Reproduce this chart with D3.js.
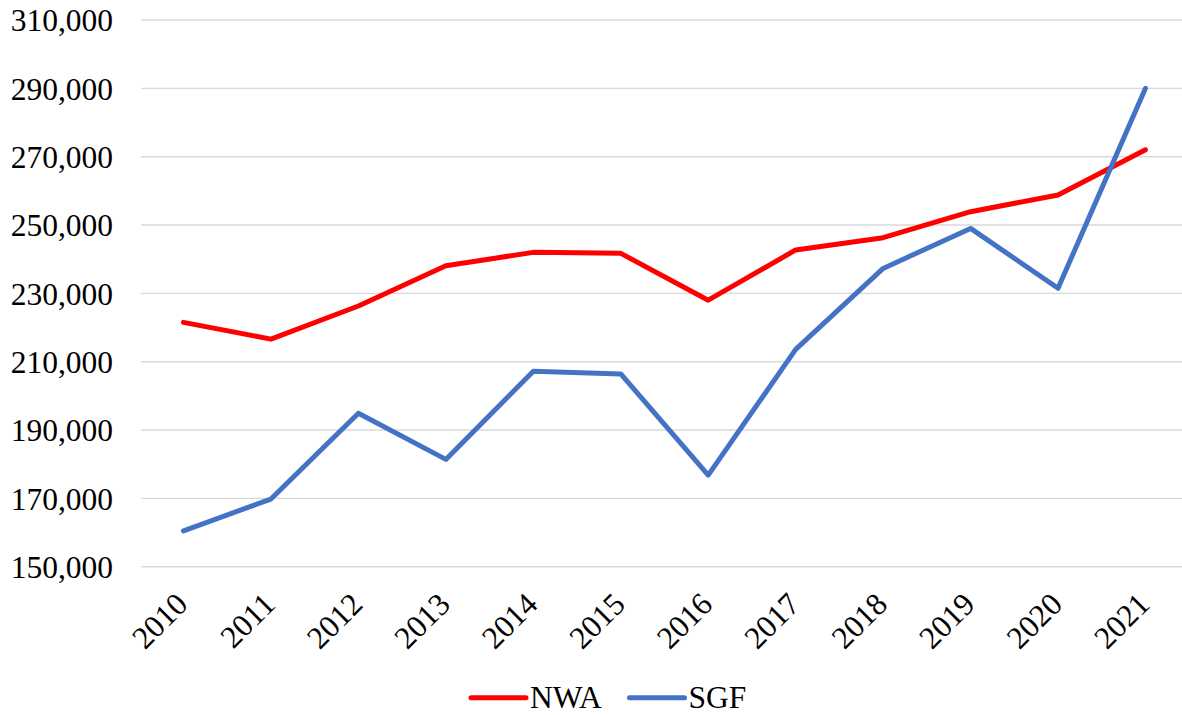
<!DOCTYPE html>
<html>
<head>
<meta charset="utf-8">
<script src="https://cdn.jsdelivr.net/npm/d3@7"></script>
<style>
  html, body { margin: 0; padding: 0; background: #ffffff; }
  svg { display: block; }
  text { font-family: "Liberation Serif", "Times New Roman", serif; fill: #000; }
</style>
</head>
<body>
<svg id="chart" width="1182" height="715"></svg>
<script>
const years = ["2010","2011","2012","2013","2014","2015","2016","2017","2018","2019","2020","2021"];
const nwaValues = [221500, 216600, 226300, 238100, 242000, 241700, 228000, 242700, 246300, 253900, 258800, 272000];
const sgfValues = [160500, 169800, 194900, 181400, 207200, 206400, 176800, 213600, 237300, 249000, 231500, 290000];
const yTicks = [150000, 170000, 190000, 210000, 230000, 250000, 270000, 290000, 310000];
const seriesNames = ["NWA", "SGF"];
const seriesColors = ["#FF0000", "#4472C4"];

const svg = d3.select("#chart");
const fontSize = 31.5;

const x = d3.scalePoint().domain(years).range([183.5, 1145.5]);
const y = d3.scaleLinear().domain([150000, 310000]).range([566.7, 20]);

// gridlines
svg.append("g").selectAll("line").data(yTicks).join("line")
  .attr("x1", 141).attr("x2", 1182)
  .attr("y1", d => y(d)).attr("y2", d => y(d))
  .attr("stroke", "#D9D9D9").attr("stroke-width", 1.4);

// y labels
const fmt = d3.format(",");
svg.append("g").selectAll("text").data(yTicks).join("text")
  .attr("x", 113).attr("y", d => y(d) + 11.3)
  .attr("text-anchor", "end")
  .style("font-size", fontSize + "px")
  .text(d => fmt(d));

// x labels
svg.append("g").selectAll("text").data(years).join("text")
  .attr("transform", d => `translate(${x(d) + 6},606) rotate(-45)`)
  .attr("text-anchor", "end")
  .style("font-size", fontSize + "px")
  .text(d => d);

// lines
const line = d3.line().x((d, i) => x(years[i])).y(d => y(d));
[nwaValues, sgfValues].forEach((vals, k) => {
  svg.append("path").datum(vals)
    .attr("d", line)
    .attr("fill", "none")
    .attr("stroke", seriesColors[k])
    .attr("stroke-width", 5)
    .attr("stroke-linejoin", "round")
    .attr("stroke-linecap", "round");
});

// legend
const legendItems = [
  { name: seriesNames[0], color: seriesColors[0], x0: 471 },
  { name: seriesNames[1], color: seriesColors[1], x0: 629.5 }
];
const lg = svg.append("g");
legendItems.forEach(it => {
  lg.append("line")
    .attr("x1", it.x0).attr("x2", it.x0 + 55)
    .attr("y1", 697.7).attr("y2", 697.7)
    .attr("stroke", it.color).attr("stroke-width", 5)
    .attr("stroke-linecap", "round");
  lg.append("text")
    .attr("x", it.x0 + 59).attr("y", 708.3)
    .style("font-size", fontSize + "px")
    .text(it.name);
});
</script>
</body>
</html>
